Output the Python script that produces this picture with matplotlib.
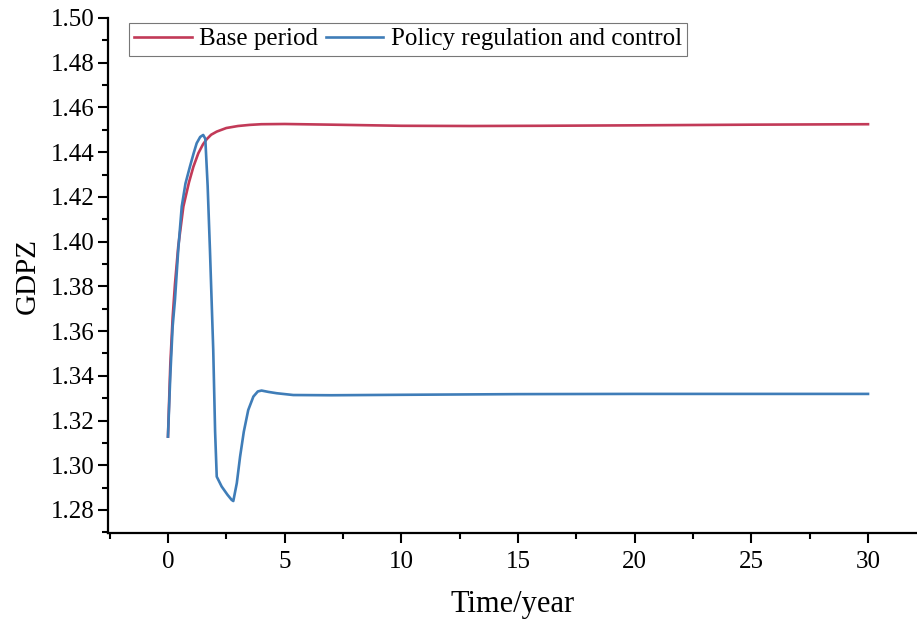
import numpy as np
import matplotlib.pyplot as plt
from matplotlib.ticker import MultipleLocator

plt.rcParams['font.family'] = ['Liberation Serif', 'DejaVu Serif']

# Base period
t_base = [0.0, 0.1, 0.2, 0.3, 0.44, 0.66, 0.9, 1.09, 1.3, 1.5, 1.66, 1.85, 2.09, 2.5,
          3.0, 3.5, 4.0, 5.0, 7.0, 10.0, 13.0, 16.0, 20.0, 25.0, 30.0]
gdpz_base = [1.3128, 1.345, 1.366, 1.381, 1.3978, 1.4157, 1.4265, 1.4335, 1.4395, 1.4435, 1.4458,
             1.4478, 1.4492, 1.4508, 1.4517, 1.4522, 1.4525, 1.4526, 1.4523, 1.4518, 1.4517,
             1.4518, 1.4520, 1.4523, 1.4525]

# Policy regulation and control
t_policy = [0.0, 0.1, 0.2, 0.3, 0.44, 0.59, 0.75, 0.94, 1.1, 1.23, 1.38, 1.51, 1.6, 1.7,
            1.8, 1.94, 2.02, 2.09, 2.3, 2.55, 2.73, 2.8, 2.95, 3.09, 3.25, 3.44, 3.66,
            3.85, 4.01, 4.3, 4.66, 5.37, 7.0, 10.0, 15.0, 20.0, 25.0, 30.0]
gdpz_policy = [1.3128, 1.340, 1.362, 1.374, 1.3963, 1.4157, 1.426, 1.4335, 1.4395, 1.444, 1.4468,
               1.4477, 1.446, 1.425, 1.396, 1.3516, 1.315, 1.2949, 1.2905, 1.2868, 1.2845,
               1.2840, 1.292, 1.3038, 1.3150, 1.3247, 1.3307, 1.3330, 1.3334, 1.3328,
               1.3322, 1.3314, 1.3313, 1.3315, 1.3318, 1.3319, 1.3319, 1.3319]

fig = plt.figure(figsize=(9.17, 6.33), dpi=100)
ax = fig.add_axes([108 / 917, 100 / 633, 809 / 917, 515 / 633])

ax.plot(t_base, gdpz_base, color='#C23A58', lw=1.9, label='Base period')
ax.plot(t_policy, gdpz_policy, color='#3F7DB8', lw=1.9, label='Policy regulation and control')

ax.set_xlim(-2.57, 32.1)
ax.set_ylim(1.2697, 1.50)
ax.xaxis.set_major_locator(MultipleLocator(5))
ax.xaxis.set_minor_locator(MultipleLocator(2.5))
ax.yaxis.set_major_locator(MultipleLocator(0.02))
ax.yaxis.set_minor_locator(MultipleLocator(0.01))
ax.yaxis.set_major_formatter(plt.FormatStrFormatter('%.2f'))

for s in ['top', 'right']:
    ax.spines[s].set_visible(False)
for s in ['left', 'bottom']:
    ax.spines[s].set_linewidth(1.6)

ax.tick_params(which='major', direction='out', length=7, width=1.5, labelsize=18)
ax.tick_params(which='minor', direction='out', length=4, width=1.5)
ax.tick_params(axis='x', pad=6)
ax.tick_params(axis='y', pad=3)

ax.set_xlabel('Time/year', fontsize=22, labelpad=12)
ax.set_ylabel('GDPZ', fontsize=21, labelpad=7)

leg = ax.legend(loc='upper left', bbox_to_anchor=(0.02, 1.0), ncol=2, fontsize=18,
                frameon=True, fancybox=False, edgecolor='#555555', handlelength=2.3,
                handletextpad=0.3, columnspacing=0.3, borderpad=0.2, borderaxespad=0.2)
leg.get_frame().set_linewidth(0.8)

fig.savefig('out.png', dpi=100)
